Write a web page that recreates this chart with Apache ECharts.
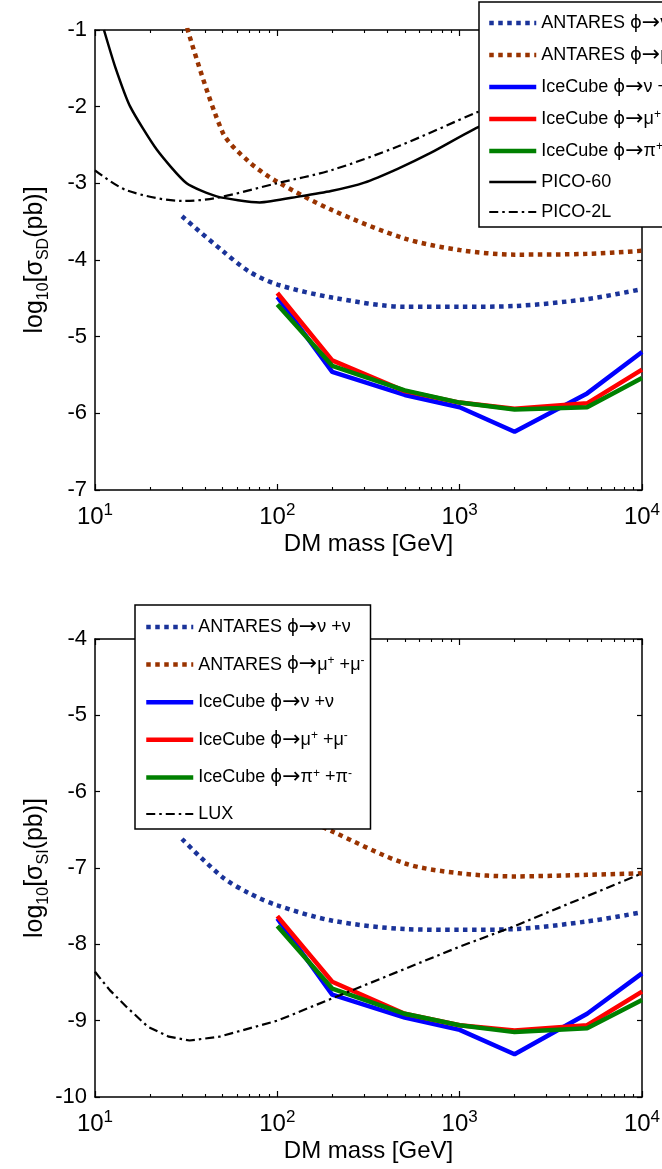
<!DOCTYPE html>
<html>
<head>
<meta charset="utf-8">
<script src="https://cdn.jsdelivr.net/npm/echarts@6/dist/echarts.min.js"></script>
<style>
html,body{margin:0;padding:0;background:#ffffff;}
#c{width:662px;height:1169px;}
</style>
</head>
<body>
<div id="c"></div>
<script>
// ---------------- DATA ----------------
// DM masses (GeV)
const iceMass  = [100, 200, 500, 1000, 2000, 5000, 10000];
const antMass  = [30, 50, 70, 100, 200, 500, 1000, 2000, 5000, 10000];
const pico60Mass = [11.2, 12.9, 15.6, 21.8, 31.8, 46.5, 80, 133, 197, 300, 457, 697, 1256, 10000];
const pico2lMass = [10, 14.9, 30.5, 46.5, 99, 197, 457, 1256, 10000];
const luxMass  = [10, 12.05, 14.9, 19.5, 25.4, 33, 48, 100, 1000, 2010, 10000];

// Spin-dependent (top panel), log10 sigma_SD [pb]
const sdAntNu = [-3.43, -3.88, -4.15, -4.32, -4.49, -4.61, -4.61, -4.60, -4.51, -4.38];
const sdAntMu = [-0.75, -2.33, -2.72, -2.98, -3.35, -3.72, -3.87, -3.93, -3.92, -3.88];
const sdIceNu = [-4.48, -5.46, -5.76, -5.92, -6.24, -5.74, -5.20];
const sdIceMu = [-4.43, -5.31, -5.71, -5.86, -5.94, -5.87, -5.43];
const sdIcePi = [-4.58, -5.38, -5.70, -5.86, -5.95, -5.92, -5.54];
const sdPico60 = [-1.0, -1.48, -2.0, -2.56, -3.0, -3.17, -3.25, -3.17, -3.10, -2.99, -2.81, -2.60, -2.27, -1.30];
const sdPico2L = [-2.83, -3.09, -3.23, -3.19, -3.0, -2.83, -2.52, -2.07, -1.20];

// Spin-independent (bottom panel), log10 sigma_SI [pb]
const siAntNu = [-6.62, -7.12, -7.33, -7.49, -7.69, -7.80, -7.81, -7.80, -7.70, -7.58];
const siAntMu = [-3.95, -5.53, -5.92, -6.18, -6.52, -6.94, -7.07, -7.11, -7.09, -7.07];
const siIceNu = [-7.66, -8.66, -8.96, -9.12, -9.44, -8.91, -8.38];
const siIceMu = [-7.63, -8.49, -8.91, -9.06, -9.13, -9.06, -8.62];
const siIcePi = [-7.76, -8.58, -8.91, -9.06, -9.15, -9.10, -8.73];
const siLux   = [-8.36, -8.60, -8.82, -9.08, -9.21, -9.26, -9.21, -9.0, -8.03, -7.76, -7.07];

// Axis ticks
const xMajorTicks = [10, 100, 1000, 10000];
const xMinorTicks = [20, 30, 40, 50, 60, 70, 80, 90, 200, 300, 400, 500, 600, 700, 800, 900,
                     2000, 3000, 4000, 5000, 6000, 7000, 8000, 9000];
const sdRange = [-7, -1];
const siRange = [-10, -4];

// Names
const N_ANT_NU = 'ANTARES φ→ν +ν';
const N_ANT_MU = 'ANTARES φ→μ+ +μ-';
const N_ICE_NU = 'IceCube φ→ν +ν';
const N_ICE_MU = 'IceCube φ→μ+ +μ-';
const N_ICE_PI = 'IceCube φ→π+ +π-';
const N_PICO60 = 'PICO-60';
const N_PICO2L = 'PICO-2L';
const N_LUX = 'LUX';

const legendRich = {};
legendRich[N_ANT_NU] = 'ANTARES {p|ϕ}{a|→}ν +ν';
legendRich[N_ANT_MU] = 'ANTARES {p|ϕ}{a|→}μ{s|+} +μ{s|-}';
legendRich[N_ICE_NU] = 'IceCube {p|ϕ}{a|→}ν +ν';
legendRich[N_ICE_MU] = 'IceCube {p|ϕ}{a|→}μ{s|+} +μ{s|-}';
legendRich[N_ICE_PI] = 'IceCube {p|ϕ}{a|→}π{s|+} +π{s|-}';
legendRich[N_PICO60] = 'PICO-60';
legendRich[N_PICO2L] = 'PICO-2L';
legendRich[N_LUX] = 'LUX';

// ---------------- STYLE ----------------
const FONT = "'Liberation Sans', Arial, Helvetica, sans-serif";
const SYMFONT = "'DejaVu Sans', 'Liberation Sans', sans-serif";
const C_ANT_NU = '#1a3399';
const C_ANT_MU = '#993300';
const C_ICE_NU = '#0000ff';
const C_ICE_MU = '#ff0000';
const C_ICE_PI = '#008000';
const DOT = [4.5, 4.5];
const DASHDOT = [9, 4, 2.5, 4];

const styles = {};
styles[N_ANT_NU] = {color: C_ANT_NU, width: 4.5, type: DOT, cap: 'butt'};
styles[N_ANT_MU] = {color: C_ANT_MU, width: 4.5, type: DOT, cap: 'butt'};
styles[N_ICE_NU] = {color: C_ICE_NU, width: 4.5, type: 'solid'};
styles[N_ICE_MU] = {color: C_ICE_MU, width: 4.5, type: 'solid'};
styles[N_ICE_PI] = {color: C_ICE_PI, width: 4.5, type: 'solid'};
styles[N_PICO60] = {color: '#000', width: 2.5, type: 'solid'};
styles[N_PICO2L] = {color: '#000', width: 2.2, type: DASHDOT};
styles[N_LUX]    = {color: '#000', width: 2.2, type: DASHDOT};

function mk(name, xs, ys, xi, yi, smooth) {
  return {
    type: 'line', name: name,
    data: xs.map((x, i) => [x, ys[i]]),
    xAxisIndex: xi, yAxisIndex: yi,
    symbol: 'none', showSymbol: false,
    smooth: smooth || false,
    clip: true, silent: true, legendHoverLink: false,
    emphasis: {disabled: true},
    color: styles[name].color,
    lineStyle: Object.assign({}, styles[name])
  };
}

const AX_LINE = {show: true, onZero: false, lineStyle: {color: '#000', width: 1.5}};

function xMain(grid, pos, showLabel) {
  return {
    type: 'log', logBase: 10, gridIndex: grid, position: pos, min: 10, max: 10000,
    axisLine: AX_LINE,
    axisTick: {show: true, inside: true, length: 6, customValues: xMajorTicks, lineStyle: {color: '#000', width: 1.2}},
    axisLabel: showLabel ? {
      show: true, margin: 11.5, customValues: xMajorTicks, showMinLabel: true, showMaxLabel: true,
      formatter: v => '{b|10}{s|' + Math.round(Math.log10(v)) + '}',
      rich: {
        b: {fontFamily: FONT, fontSize: 24, lineHeight: 32, color: '#000'},
        s: {fontFamily: FONT, fontSize: 17, lineHeight: 14, verticalAlign: 'top', color: '#000'}
      }
    } : {show: false},
    splitLine: {show: false}, minorTick: {show: false}, minorSplitLine: {show: false},
    name: showLabel ? 'DM mass [GeV]' : '', nameLocation: 'middle', nameGap: 42, nameMoveOverlap: false,
    nameTextStyle: {fontFamily: FONT, fontSize: 24, lineHeight: 24, color: '#000'}
  };
}
function xMinor(grid, pos) {
  return {
    type: 'log', logBase: 10, gridIndex: grid, position: pos, min: 10, max: 10000,
    axisLine: {show: false},
    axisTick: {show: true, inside: true, length: 3, customValues: xMinorTicks, lineStyle: {color: '#000', width: 1.1}},
    axisLabel: {show: false}, splitLine: {show: false}
  };
}
function yMain(grid, pos, range, showLabel, nameRich) {
  return {
    type: 'value', gridIndex: grid, position: pos, min: range[0], max: range[1], interval: 1,
    axisLine: AX_LINE,
    axisTick: {show: true, inside: true, length: 5, lineStyle: {color: '#000', width: 1.2}},
    axisLabel: showLabel ? {show: true, margin: 8, fontFamily: FONT, fontSize: 22, color: '#000', showMinLabel: true, showMaxLabel: true} : {show: false},
    splitLine: {show: false},
    name: showLabel ? nameRich : '', nameLocation: 'middle', nameRotate: 90, nameGap: 43, nameMoveOverlap: false,
    nameTextStyle: {
      fontFamily: FONT, fontSize: 25, lineHeight: 34, color: '#000',
      rich: {sub: {fontFamily: FONT, fontSize: 16, lineHeight: 10, verticalAlign: 'bottom', color: '#000'}}
    }
  };
}
function yHidden(grid, range) {
  return {type: 'value', gridIndex: grid, min: range[0], max: range[1], show: false};
}

function legendItem(name) {
  return {name: name, lineStyle: {width: styles[name].width, type: styles[name].type, color: styles[name].color}};
}
function legend(left, top, padding, gap, names) {
  return {
    type: 'plain', orient: 'vertical', left: left, top: top, padding: padding, itemGap: gap,
    itemWidth: 47, itemHeight: 14, align: 'left',
    backgroundColor: '#ffffff', borderColor: '#000', borderWidth: 1.5, borderRadius: 0,
    selectedMode: false, data: names.map(legendItem),
    itemStyle: {opacity: 0},
    formatter: n => legendRich[n],
    textStyle: {
      fontFamily: FONT, fontSize: 18, lineHeight: 20, color: '#000',
      rich: {
        s: {fontFamily: FONT, fontSize: 12, lineHeight: 10, verticalAlign: 'top', color: '#000'},
        p: {fontFamily: SYMFONT, fontSize: 18, lineHeight: 20, color: '#000'},
        a: {fontFamily: SYMFONT, fontSize: 22, lineHeight: 20, color: '#000'}
      }
    },
    z: 10
  };
}

const G0 = {left: 95, top: 30, width: 547, height: 460};
const G1 = {left: 95, top: 639, width: 547, height: 458};
function grid(g) {
  return Object.assign({show: false, containLabel: false, outerBoundsMode: 'none'}, g);
}

const option = {
  animation: false,
  backgroundColor: '#ffffff',
  textStyle: {fontFamily: FONT},
  grid: [grid(G0), grid(G1), grid(G0), grid(G1)],
  xAxis: [
    xMain(0, 'bottom', true), xMain(0, 'top', false),
    xMain(1, 'bottom', true), xMain(1, 'top', false),
    xMinor(2, 'bottom'), xMinor(2, 'top'),
    xMinor(3, 'bottom'), xMinor(3, 'top')
  ],
  yAxis: [
    yMain(0, 'left', sdRange, true, 'log{sub|10}[σ{sub|SD}(pb)]'), yMain(0, 'right', sdRange, false),
    yMain(1, 'left', siRange, true, 'log{sub|10}[σ{sub|SI}(pb)]'), yMain(1, 'right', siRange, false),
    yHidden(2, sdRange), yHidden(3, siRange)
  ],
  legend: [
    legend(479, 2, [10, 8, 5, 8], 10, [N_ANT_NU, N_ANT_MU, N_ICE_NU, N_ICE_MU, N_ICE_PI, N_PICO60, N_PICO2L]),
    legend(135, 605, [11, 6, 5, 9], 15.6, [N_ANT_NU, N_ANT_MU, N_ICE_NU, N_ICE_MU, N_ICE_PI, N_LUX])
  ],
  series: [
    mk(N_ANT_NU, antMass, sdAntNu, 0, 0, 0.3),
    mk(N_ANT_MU, antMass, sdAntMu, 0, 0, 0.3),
    mk(N_ICE_NU, iceMass, sdIceNu, 0, 0),
    mk(N_ICE_MU, iceMass, sdIceMu, 0, 0),
    mk(N_ICE_PI, iceMass, sdIcePi, 0, 0),
    mk(N_PICO60, pico60Mass, sdPico60, 0, 0, 0.2),
    mk(N_PICO2L, pico2lMass, sdPico2L, 0, 0, 0.3),

    mk(N_ANT_NU, antMass, siAntNu, 2, 2, 0.3),
    mk(N_ANT_MU, antMass, siAntMu, 2, 2, 0.3),
    mk(N_ICE_NU, iceMass, siIceNu, 2, 2),
    mk(N_ICE_MU, iceMass, siIceMu, 2, 2),
    mk(N_ICE_PI, iceMass, siIcePi, 2, 2),
    mk(N_LUX, luxMass, siLux, 2, 2)
  ]
};

const chart = echarts.init(document.getElementById('c'), null, {renderer: 'canvas'});
chart.setOption(option);
</script>
</body>
</html>
